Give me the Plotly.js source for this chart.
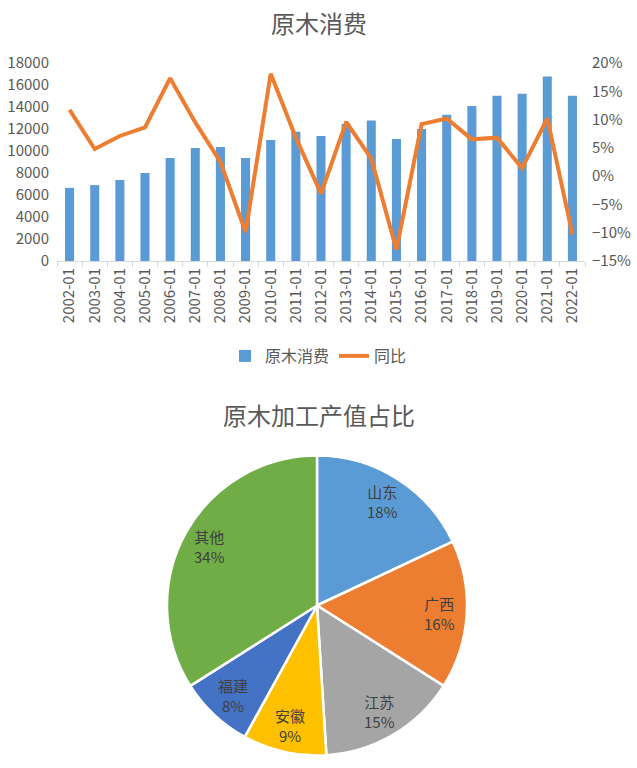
<!DOCTYPE html>
<html><head><meta charset="utf-8">
<script src="https://cdn.plot.ly/plotly-3.0.1.min.js"></script>
<style>html,body{margin:0;padding:0;background:#fff}#c{width:637px;height:768px}</style>
</head><body><div id="c"></div>
<script>
const years = ["2002-01","2003-01","2004-01","2005-01","2006-01","2007-01","2008-01","2009-01","2010-01","2011-01","2012-01","2013-01","2014-01","2015-01","2016-01","2017-01","2018-01","2019-01","2020-01","2021-01","2022-01"];
const consumption = [6650,6900,7360,8000,9360,10280,10370,9360,11000,11740,11370,12450,12770,11100,12010,13290,14100,15020,15200,16780,15020];
const yoy = [0.117,0.048,0.071,0.086,0.173,0.095,0.025,-0.099,0.181,0.068,-0.031,0.096,0.031,-0.130,0.092,0.102,0.065,0.068,0.014,0.102,-0.103];
const regions = ["山东","广西","江苏","安徽","福建","其他"];
const shares = [18,16,15,9,8,34];
const pieColors = ["#5B9BD5","#ED7D31","#A5A5A5","#FFC000","#4472C4","#70AD47"];

const W=637,H=768;
const font = "'Noto Sans CJK SC', 'Open Sans', sans-serif";
const gray = "#595959";

// pie geometry (paper domain)
const pieDom = {x:[167/W, 467/W], y:[1-756/H, 1-455/H]};
const cx = (pieDom.x[0]+pieDom.x[1])/2*W, cy = (1-(pieDom.y[0]+pieDom.y[1])/2)*H;
const R = Math.min((pieDom.x[1]-pieDom.x[0])*W, (pieDom.y[1]-pieDom.y[0])*H)/2;
const total = shares.reduce((a,b)=>a+b,0);
const pieLabels = [];
let cum = 0;
shares.forEach((v,i)=>{
  const mid = (cum + v/2)/total*2*Math.PI; cum += v;
  const px = cx + 0.82*R*Math.sin(mid), py = cy - 0.82*R*Math.cos(mid);
  pieLabels.push({text: regions[i]+"<br>"+Math.round(v/total*100)+"%", x:px/W, y:1-py/H, xref:"paper", yref:"paper",
    showarrow:false, font:{size:15, color:"#404040", family:font}, xanchor:"center", yanchor:"middle"});
});

const data = [
  {type:"bar", x:years, y:consumption, name:"原木消费", marker:{color:"#5B9BD5"}, width:0.36, xaxis:"x", yaxis:"y"},
  {type:"scatter", mode:"lines", x:years, y:yoy, name:"同比", line:{color:"#ED7D31", width:4}, xaxis:"x", yaxis:"y2"},
  {type:"pie", labels:regions, values:shares, sort:false, direction:"clockwise", rotation:0,
   marker:{colors:pieColors, line:{color:"#fff", width:2.5}},
   textinfo:"none", showlegend:false, hoverinfo:"label+percent", domain:pieDom}
];
const layout = {
  width:W, height:H, margin:{l:0,r:0,t:0,b:0}, paper_bgcolor:"#fff", plot_bgcolor:"rgba(0,0,0,0)",
  font:{family:font, color:gray, size:14},
  showlegend:true,
  legend:{orientation:"h", x:0.5, xanchor:"center", y:1-356/H, yanchor:"middle", font:{size:16, color:gray}, traceorder:"normal"},
  xaxis:{domain:[57/W, 585/W], anchor:"y", type:"category", showline:true, linecolor:"#D9D9D9", linewidth:1,
         ticks:"outside", tickson:"boundaries", ticklen:5, tickcolor:"#D9D9D9", tickangle:-90,
         tickfont:{size:15, color:gray}, showgrid:false},
  yaxis:{domain:[1-261/H, 1-63/H], range:[0,18000], dtick:2000, showgrid:false, zeroline:false, showline:false,
         tickfont:{size:15, color:gray}, ticks:"", tickformat:"d", ticklabelstandoff:7},
  yaxis2:{overlaying:"y", side:"right", range:[-0.15,0.20], dtick:0.05, tickformat:".0%", showgrid:false, zeroline:false,
          showline:false, tickfont:{size:15, color:gray}, anchor:"x", ticklabelstandoff:6},
  annotations:[
    {text:"原木消费", x:0.5, y:1-22/H, xref:"paper", yref:"paper", showarrow:false, font:{size:24, color:gray, family:font}, yanchor:"middle"},
    {text:"原木加工产值占比", x:0.5, y:1-414/H, xref:"paper", yref:"paper", showarrow:false, font:{size:24, color:gray, family:font}, yanchor:"middle"}
  ].concat(pieLabels)
};
Plotly.newPlot("c", data, layout, {displayModeBar:false, staticPlot:true});
</script></body></html>
